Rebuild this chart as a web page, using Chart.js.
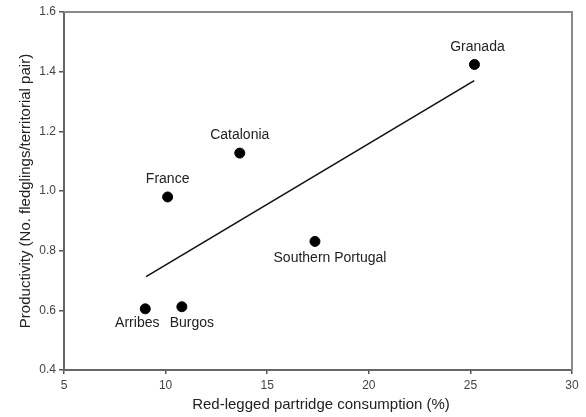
<!DOCTYPE html>
<html>
<head>
<meta charset="utf-8">
<script src="https://cdn.jsdelivr.net/npm/chart.js@4/dist/chart.umd.min.js"></script>
<style>
html,body{margin:0;padding:0;background:#fff;}
#wrap{width:586px;height:417px;position:relative;}
</style>
</head>
<body>
<div id="wrap"><canvas id="c" width="586" height="417"></canvas></div>
<script>
// ---- data ----
const sites = ["Arribes", "Burgos", "France", "Catalonia", "Southern Portugal", "Granada"];
const consumption = [9.0, 10.8, 10.1, 13.65, 17.35, 25.2];
const productivity = [0.605, 0.612, 0.98, 1.127, 0.831, 1.424];
const fitX = [9.04, 25.19];
const fitY = [0.713, 1.370];
const xTicks = [5, 10, 15, 20, 25, 30];
const yTicks = [0.4, 0.6, 0.8, 1.0, 1.2, 1.4, 1.6];
const xTitle = "Red-legged partridge consumption (%)";
const yTitle = "Productivity (No. fledglings/territorial pair)";

// label placement (pixel offsets from the point)
const labelOffsets = {
  "Arribes": [-8, 14], "Burgos": [10, 16], "France": [0, -18],
  "Catalonia": [0, -18], "Southern Portugal": [15, 17], "Granada": [3, -17]
};

const FONT = "'Liberation Sans', Arial, sans-serif";

const framePlugin = {
  id: 'frame',
  afterDraw(chart) {
    const {ctx, chartArea: a} = chart;
    ctx.save();
    // top & right
    ctx.strokeStyle = '#8a8a8a';
    ctx.lineWidth = 2;
    ctx.beginPath();
    ctx.moveTo(a.left, a.top); ctx.lineTo(a.right, a.top); ctx.lineTo(a.right, a.bottom);
    ctx.stroke();
    // labels
    const meta = chart.getDatasetMeta(0);
    ctx.fillStyle = '#222';
    ctx.font = '14px ' + FONT;
    ctx.textAlign = 'center';
    ctx.textBaseline = 'middle';
    meta.data.forEach((pt, i) => {
      const off = labelOffsets[sites[i]] || [0, -16];
      ctx.fillText(sites[i], pt.x + off[0], pt.y + off[1]);
    });
    // axis titles
    ctx.fillStyle = '#222';
    ctx.font = '15px ' + FONT;
    ctx.fillText(xTitle, (a.left + a.right) / 2 + 3, 405);
    ctx.translate(26, (a.top + a.bottom) / 2);
    ctx.rotate(-Math.PI / 2);
    ctx.fillText(yTitle, 0, 0);
    ctx.restore();
  }
};

new Chart(document.getElementById('c'), {
  type: 'scatter',
  data: {
    datasets: [
      {
        label: 'sites',
        data: consumption.map((x, i) => ({x, y: productivity[i]})),
        backgroundColor: '#000',
        borderColor: '#000',
        pointRadius: 5,
        pointHoverRadius: 5
      },
      {
        label: 'fit',
        type: 'line',
        data: fitX.map((x, i) => ({x, y: fitY[i]})),
        borderColor: '#111',
        borderWidth: 1.6,
        pointRadius: 0,
        fill: false
      }
    ]
  },
  options: {
    responsive: false,
    animation: false,
    events: [],
    layout: {padding: {top: 12, right: 14, left: 0, bottom: 0}},
    plugins: {legend: {display: false}, tooltip: {enabled: false}},
    scales: {
      x: {
        type: 'linear', min: 5, max: 30,
        afterBuildTicks: s => { s.ticks = xTicks.map(v => ({value: v})); },
        afterFit: s => { s.height = 47; },
        grid: {display: true, drawOnChartArea: false, drawTicks: true, tickLength: 4, color: '#555', lineWidth: 1.5},
        border: {display: true, color: '#666', width: 2},
        ticks: {color: '#444', font: {size: 12, family: FONT}, padding: 4, maxRotation: 0,
                callback: v => String(v)}
      },
      y: {
        type: 'linear', min: 0.4, max: 1.6,
        afterBuildTicks: s => { s.ticks = yTicks.map(v => ({value: v})); },
        afterFit: s => { s.width = 64; },
        grid: {display: true, drawOnChartArea: false, drawTicks: true, tickLength: 5, color: '#555', lineWidth: 1.5},
        border: {display: true, color: '#666', width: 2},
        ticks: {color: '#444', font: {size: 12, family: FONT}, padding: 3,
                callback: v => Number(v).toFixed(1)}
      }
    }
  },
  plugins: [framePlugin]
});
</script>
</body>
</html>
